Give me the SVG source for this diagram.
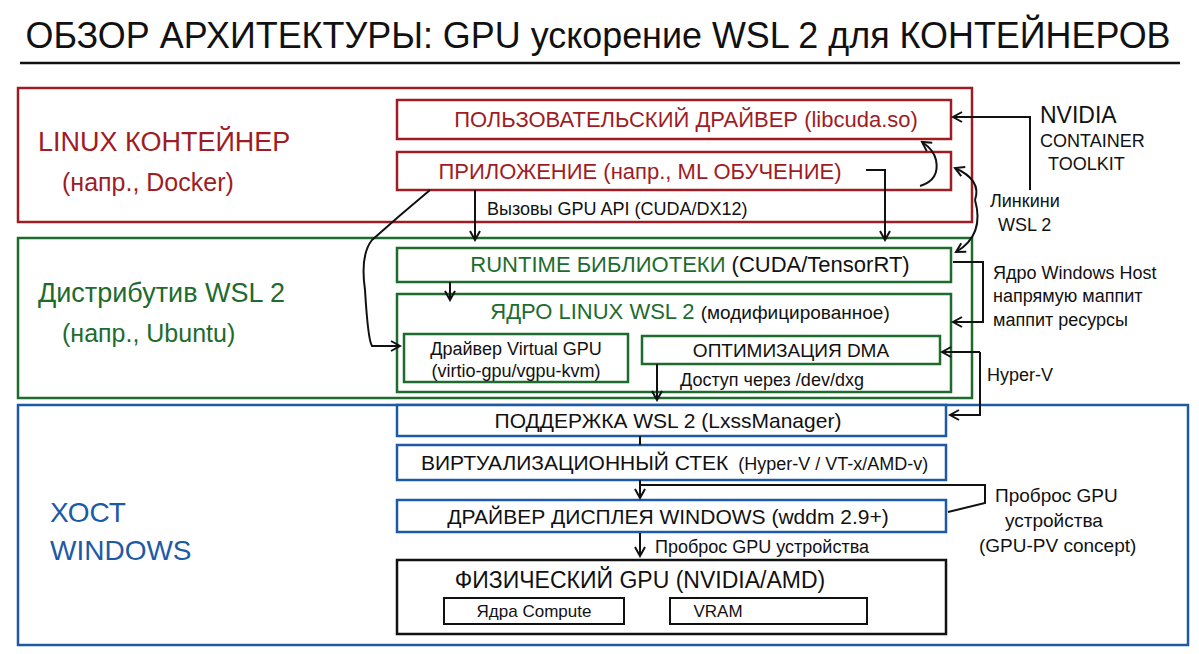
<svg xmlns="http://www.w3.org/2000/svg" width="1199" height="654" viewBox="0 0 1199 654">
<defs>
<marker id="ah" markerWidth="12" markerHeight="12" refX="10" refY="6" orient="auto" markerUnits="userSpaceOnUse"><path d="M1,1 L10,6 L1,11" fill="none" stroke="#111" stroke-width="2"/></marker>
</defs>
<style>
text{font-family:"Liberation Sans Narrow","Liberation Sans","DejaVu Sans",sans-serif;fill:#111}
.red{fill:#a01c24}.grn{fill:#1e6b2e}.blu{fill:#1d5aa6}
.rb{fill:#fff;stroke:#a01c24;stroke-width:2.5}
.gb{fill:#fff;stroke:#1e6b2e;stroke-width:2.5}
.bb{fill:#fff;stroke:#1d5aa6;stroke-width:2.5}
.kb{fill:#fff;stroke:#111;stroke-width:2.5}
.c{fill:none;stroke:#111;stroke-width:2}
.m{text-anchor:middle}
</style>
<rect width="1199" height="654" fill="#fff"/>
<text x="598" y="48" class="m" font-size="36" textLength="1145" lengthAdjust="spacingAndGlyphs">ОБЗОР АРХИТЕКТУРЫ: GPU ускорение WSL 2 для КОНТЕЙНЕРОВ</text>
<line x1="20" y1="63" x2="1180" y2="63" stroke="#111" stroke-width="2.5"/>

<g id="linux">
<rect x="18" y="88" width="954" height="134" fill="none" stroke="#a01c24" stroke-width="2.5"/>
<text x="38" y="151" font-size="27" class="red">LINUX КОНТЕЙНЕР</text>
<text x="62" y="191" font-size="25" class="red">(напр., Docker)</text>
</g>
<g id="userdrv"><rect x="397" y="100" width="554" height="39" class="rb"/>
<text x="686" y="127" class="m red" font-size="22">ПОЛЬЗОВАТЕЛЬСКИЙ ДРАЙВЕР (libcuda.so)</text></g>
<g id="app"><rect x="397" y="152" width="554" height="38" class="rb"/>
<text x="640" y="179" class="m red" font-size="22">ПРИЛОЖЕНИЕ (напр., ML ОБУЧЕНИЕ)</text></g>

<g id="wsl">
<rect x="18" y="238" width="954" height="160" fill="none" stroke="#1e6b2e" stroke-width="2.5"/>
<text x="38" y="302" font-size="27" class="grn">Дистрибутив WSL 2</text>
<text x="62" y="342" font-size="25" class="grn">(напр., Ubuntu)</text>
</g>
<g id="runtime"><rect x="397" y="248" width="554" height="34" class="gb"/>
<text x="690" y="272" class="m" font-size="22"><tspan class="grn">RUNTIME БИБЛИОТЕКИ</tspan> (CUDA/TensorRT)</text></g>
<g id="kernel"><rect x="397" y="294" width="554" height="98" class="gb"/>
<text x="690" y="319" class="m" font-size="22"><tspan class="grn">ЯДРО LINUX WSL 2</tspan> <tspan font-size="19">(модифицированное)</tspan></text></g>
<g id="vgpu"><rect x="404" y="334" width="224" height="48" class="gb"/>
<text x="516" y="355" class="m" font-size="18">Драйвер Virtual GPU</text>
<text x="516" y="377" class="m" font-size="18">(virtio-gpu/vgpu-kvm)</text></g>
<g id="dma"><rect x="642" y="336" width="298" height="28" class="gb"/>
<text x="791" y="357" class="m" font-size="19">ОПТИМИЗАЦИЯ DMA</text></g>

<g id="host">
<rect x="18" y="405" width="1170" height="240" fill="none" stroke="#1d5aa6" stroke-width="2.5"/>
<text x="50" y="522" font-size="28" class="blu">ХОСТ</text>
<text x="50" y="560" font-size="28" class="blu">WINDOWS</text>
</g>
<g id="support"><rect x="397" y="405" width="549" height="31" class="bb"/>
<text x="668" y="428" class="m" font-size="21">ПОДДЕРЖКА WSL 2 (LxssManager)</text></g>
<g id="virt"><rect x="397" y="445" width="549" height="35" class="bb"/>
<text x="421" y="470" font-size="21">ВИРТУАЛИЗАЦИОННЫЙ СТЕК <tspan font-size="18" dx="4">(Hyper-V / VT-x/AMD-v)</tspan></text></g>
<g id="display"><rect x="397" y="500" width="549" height="32" class="bb"/>
<text x="668" y="524" class="m" font-size="21">ДРАЙВЕР ДИСПЛЕЯ WINDOWS (wddm 2.9+)</text></g>
<g id="gpu"><rect x="397" y="560" width="549" height="74" class="kb"/>
<text x="640" y="588" class="m" font-size="23">ФИЗИЧЕСКИЙ GPU (NVIDIA/AMD)</text>
<rect x="444" y="598" width="180" height="26" fill="#fff" stroke="#111" stroke-width="2"/>
<text x="534" y="617" class="m" font-size="17">Ядра Compute</text>
<rect x="670" y="598" width="197" height="26" fill="#fff" stroke="#111" stroke-width="2"/>
<text x="718" y="617" class="m" font-size="17">VRAM</text></g>

<g id="connectors">
<path class="c" d="M1030,190 V117 H953" marker-end="url(#ah)"/>
<path class="c" d="M920,186 Q940,180 936,160 Q934,150 922,142" marker-end="url(#ah)"/>
<path class="c" d="M866,170 H885 V240" marker-end="url(#ah)"/>
<path class="c" d="M475,190 V240" marker-end="url(#ah)"/>
<path class="c" d="M430,190 Q400,215 372,240 Q360,255 365,290 Q368,340 372,346 H400" marker-end="url(#ah)"/>
<path class="c" d="M450,282 V300" marker-end="url(#ah)"/>
<path class="c" d="M975,200 Q982,180 955,168" marker-end="url(#ah)"/>
<path class="c" d="M975,200 Q985,235 956,252" marker-end="url(#ah)"/>
<path class="c" d="M953,262 H983 V322 H953" marker-end="url(#ah)"/>
<path class="c" d="M980,352 H942" marker-end="url(#ah)"/>
<path class="c" d="M980,352 V415 H950" marker-end="url(#ah)"/>
<path class="c" d="M657,364 V400" marker-end="url(#ah)"/>
<path class="c" d="M640,436 V445"/>
<path class="c" d="M640,480 V498" marker-end="url(#ah)"/>
<path class="c" d="M640,485 H985 V503 L948,512"/>
<path class="c" d="M640,533 V556" marker-end="url(#ah)"/>
<text x="487" y="215" font-size="18">Вызовы GPU API (CUDA/DX12)</text>
<text x="680" y="386" font-size="18">Доступ через /dev/dxg</text>
<text x="655" y="553" font-size="18">Проброс GPU устройства</text>
<text x="1040" y="123" font-size="23">NVIDIA</text>
<text x="1040" y="147" font-size="18">CONTAINER</text>
<text x="1048" y="170" font-size="18">TOOLKIT</text>
<text x="990" y="207" font-size="18">Линкини</text>
<text x="998" y="231" font-size="18">WSL 2</text>
<text x="993" y="279" font-size="18">Ядро Windows Host</text>
<text x="993" y="302" font-size="18">напрямую маппит</text>
<text x="993" y="326" font-size="18">маппит ресурсы</text>
<text x="987" y="381" font-size="18">Hyper-V</text>
<text x="995" y="502" font-size="19">Проброс GPU</text>
<text x="1005" y="527" font-size="19">устройства</text>
<text x="979" y="552" font-size="19">(GPU-PV concept)</text>
</g>
</svg>
